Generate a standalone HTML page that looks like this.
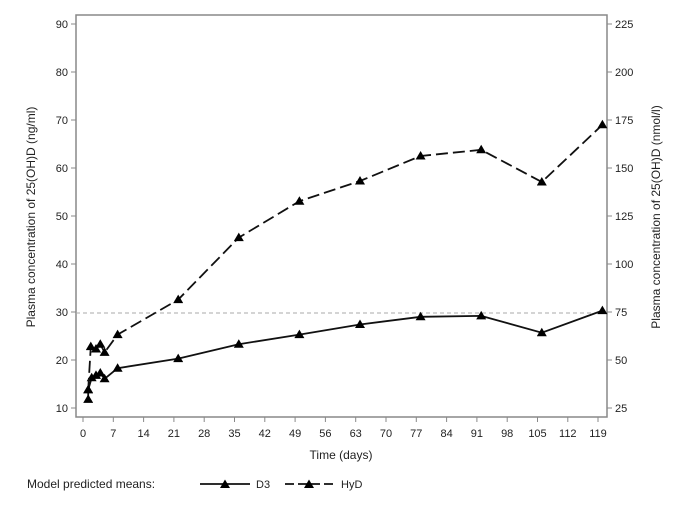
<!DOCTYPE html>
<html><head><meta charset="utf-8"><style>
body{margin:0;background:#fff}
svg text{font-family:"Liberation Sans",sans-serif;fill:#222}
</style></head><body>
<svg width="691" height="508" viewBox="0 0 691 508" xmlns="http://www.w3.org/2000/svg">
<defs>
<marker id="t" markerWidth="10" markerHeight="10" refX="5" refY="5.5" markerUnits="userSpaceOnUse">
<polygon points="0,9 5,0.5 10,9" fill="#000"/>
</marker>
</defs>
<rect x="76" y="15" width="531" height="402" fill="none" stroke="#888" stroke-width="1.5"/>
<line x1="76" y1="313" x2="607" y2="313" stroke="#aaa" stroke-dasharray="4,3" stroke-width="1"/>
<g stroke="#888" stroke-width="1">
<line x1="71" y1="24" x2="76" y2="24"/><line x1="71" y1="72" x2="76" y2="72"/><line x1="71" y1="120" x2="76" y2="120"/><line x1="71" y1="168" x2="76" y2="168"/><line x1="71" y1="216" x2="76" y2="216"/><line x1="71" y1="264" x2="76" y2="264"/><line x1="71" y1="312" x2="76" y2="312"/><line x1="71" y1="360" x2="76" y2="360"/><line x1="71" y1="408" x2="76" y2="408"/>
<line x1="607" y1="24" x2="612" y2="24"/><line x1="607" y1="72" x2="612" y2="72"/><line x1="607" y1="120" x2="612" y2="120"/><line x1="607" y1="168" x2="612" y2="168"/><line x1="607" y1="216" x2="612" y2="216"/><line x1="607" y1="264" x2="612" y2="264"/><line x1="607" y1="312" x2="612" y2="312"/><line x1="607" y1="360" x2="612" y2="360"/><line x1="607" y1="408" x2="612" y2="408"/>
<line x1="83" y1="417" x2="83" y2="422"/><line x1="113.3" y1="417" x2="113.3" y2="422"/><line x1="143.6" y1="417" x2="143.6" y2="422"/><line x1="173.9" y1="417" x2="173.9" y2="422"/><line x1="204.2" y1="417" x2="204.2" y2="422"/><line x1="234.5" y1="417" x2="234.5" y2="422"/><line x1="264.8" y1="417" x2="264.8" y2="422"/><line x1="295.1" y1="417" x2="295.1" y2="422"/><line x1="325.4" y1="417" x2="325.4" y2="422"/><line x1="355.7" y1="417" x2="355.7" y2="422"/><line x1="386" y1="417" x2="386" y2="422"/><line x1="416.3" y1="417" x2="416.3" y2="422"/><line x1="446.6" y1="417" x2="446.6" y2="422"/><line x1="476.9" y1="417" x2="476.9" y2="422"/><line x1="507.2" y1="417" x2="507.2" y2="422"/><line x1="537.5" y1="417" x2="537.5" y2="422"/><line x1="567.8" y1="417" x2="567.8" y2="422"/><line x1="598" y1="417" x2="598" y2="422"/>
</g>
<g font-size="11" text-anchor="end">
<text x="68" y="28">90</text><text x="68" y="76">80</text><text x="68" y="124">70</text><text x="68" y="172">60</text><text x="68" y="220">50</text><text x="68" y="268">40</text><text x="68" y="316">30</text><text x="68" y="364">20</text><text x="68" y="412">10</text>
</g>
<g font-size="11" text-anchor="start">
<text x="615" y="28">225</text><text x="615" y="76">200</text><text x="615" y="124">175</text><text x="615" y="172">150</text><text x="615" y="220">125</text><text x="615" y="268">100</text><text x="615" y="316">75</text><text x="615" y="364">50</text><text x="615" y="412">25</text>
</g>
<g font-size="11" text-anchor="middle">
<text x="83" y="437">0</text><text x="113.3" y="437">7</text><text x="143.6" y="437">14</text><text x="173.9" y="437">21</text><text x="204.2" y="437">28</text><text x="234.5" y="437">35</text><text x="264.8" y="437">42</text><text x="295.1" y="437">49</text><text x="325.4" y="437">56</text><text x="355.7" y="437">63</text><text x="386" y="437">70</text><text x="416.3" y="437">77</text><text x="446.6" y="437">84</text><text x="476.9" y="437">91</text><text x="507.2" y="437">98</text><text x="537.5" y="437">105</text><text x="567.8" y="437">112</text><text x="598" y="437">119</text>
</g>
<text x="341" y="459" font-size="12" text-anchor="middle">Time (days)</text>
<text transform="translate(35,217) rotate(-90)" font-size="12" text-anchor="middle">Plasma concentration of 25(OH)D (ng/ml)</text>
<text transform="translate(660,217) rotate(-90)" font-size="12" text-anchor="middle">Plasma concentration of 25(OH)D (nmol/l)</text>
<polyline fill="none" stroke="#111" stroke-width="1.8" marker-start="url(#t)" marker-mid="url(#t)" marker-end="url(#t)"
points="88.2,399.4 88.2,389.8 91.7,377.8 96,375.4 100.3,373 104.6,378.8 117.6,368.2 178.2,358.6 238.8,344.2 299.4,334.6 360,324.5 420.6,316.8 481.2,315.9 541.8,332.7 602.4,310.6"/>
<polyline fill="none" stroke="#111" stroke-width="1.8" stroke-dasharray="12,5" marker-start="url(#t)" marker-mid="url(#t)" marker-end="url(#t)"
points="88.2,389.8 90.8,346.6 96,349 100.3,344.2 104.6,352.4 117.6,334.6 178.2,299.6 238.8,237.6 299.4,201.2 360,181 420.6,156 481.2,149.8 541.8,182 602.4,124.8"/>
<text x="27" y="488" font-size="12">Model predicted means:</text>
<line x1="200" y1="484" x2="250" y2="484" stroke="#111" stroke-width="1.8"/>
<polygon points="220,488 225,479.5 230,488" fill="#000"/>
<text x="256" y="488" font-size="11">D3</text>
<line x1="285" y1="484" x2="335" y2="484" stroke="#111" stroke-width="1.8" stroke-dasharray="9,4"/>
<polygon points="304,488 309,479.5 314,488" fill="#000"/>
<text x="341" y="488" font-size="11">HyD</text>
</svg>
</body></html>
